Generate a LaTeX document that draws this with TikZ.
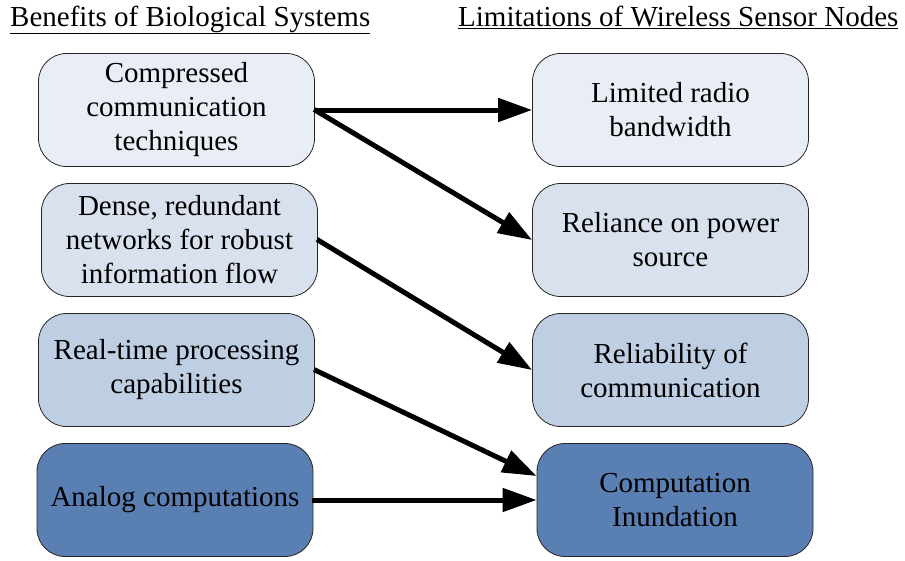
\documentclass[tikz,border=0pt]{standalone}
\usepackage{fontspec}
\setmainfont{Liberation Serif}
\usetikzlibrary{arrows.meta}
\definecolor{tintA}{HTML}{E9EEF6}
\definecolor{tintB}{HTML}{D8E1ED}
\definecolor{tintC}{HTML}{BFCFE3}
\definecolor{tintD}{HTML}{5A7FB3}
\tikzset{
  card/.style={draw=black!85, line width=0.8pt, rounded corners=28pt,
    minimum width=276pt, minimum height=113pt, inner sep=0pt,
    align=center, font=\rmfamily\fontsize{29}{34}\selectfont},
  heading/.style={inner sep=0pt, anchor=base west, font=\rmfamily\fontsize{29}{34}\selectfont},
  link/.style={line width=5pt, -{Triangle[length=34pt,width=23pt]}, shorten <=-1pt}
}
\begin{document}
\begin{tikzpicture}[x=1pt,y=-1pt]
\useasboundingbox (0,0) rectangle (905,560);
% column headings
\node[heading] (hl) at (10,26) {\underline{Benefits of Biological Systems}};
\node[heading] (hr) at (458,26) {\underline{Limitations of Wireless Sensor Nodes}};
% biological benefits
\node[card, fill=tintA] (L1) at (176.5,110) {Compressed\\communication\\techniques};
\node[card, fill=tintB] (L2) at (179.5,240) {Dense, redundant\\networks for robust\\information flow};
\node[card, fill=tintC] (L3) at (176.5,370) {Real-time processing\\capabilities};
\node[card, fill=tintD] (L4) at (175,500) {Analog computations};
% sensor node limitations
\node[card, fill=tintA] (R1) at (670.5,110) {Limited radio\\bandwidth};
\node[card, fill=tintB] (R2) at (670.5,240) {Reliance on power\\source};
\node[card, fill=tintC] (R3) at (670.5,370) {Reliability of\\communication};
\node[card, fill=tintD] (R4) at (675,500) {Computation\\Inundation};
% connections
\draw[link] (L1.east) -- (R1.west);
\draw[link] (L1.east) -- (R2.west);
\draw[link] (L2.east) -- (R3.west);
\draw[link] (L3.east) -- ([yshift=24pt]R4.west);
\draw[link] (L4.east) -- (R4.west);
\end{tikzpicture}
\end{document}
